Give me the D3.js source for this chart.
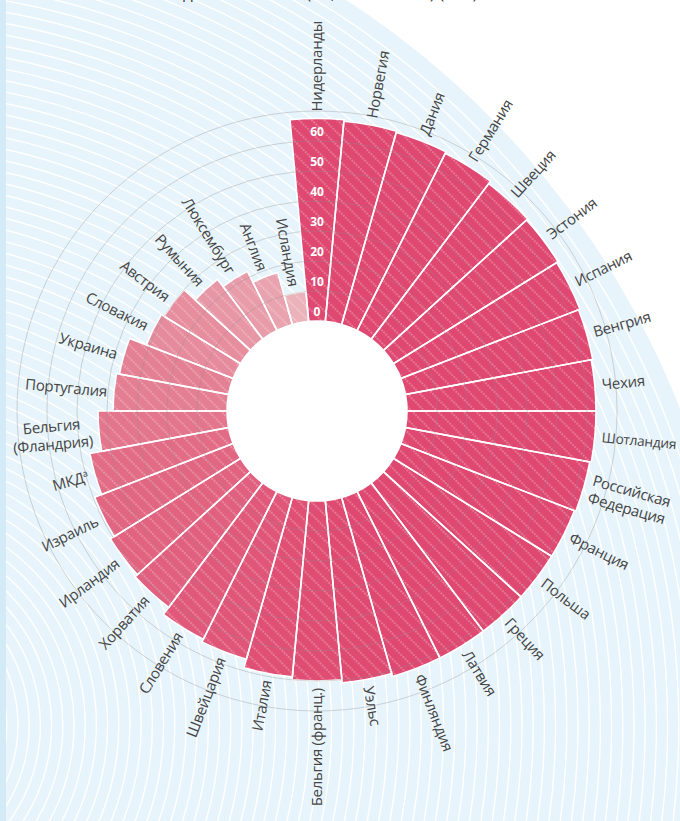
<!DOCTYPE html>
<html><head><meta charset="utf-8">
<script src="https://cdn.jsdelivr.net/npm/d3@7"></script>
<style>body{margin:0;background:#fff;overflow:hidden}</style>
</head><body><svg id="c" width="680" height="821"></svg>
<script>
const countries = ["Нидерланды","Норвегия","Дания","Германия","Швеция","Эстония","Испания","Венгрия","Чехия","Шотландия","Российская\nФедерация","Франция","Польша","Греция","Латвия","Финляндия","Уэльс","Бельгия (франц.)","Италия","Швейцария","Словения","Хорватия","Ирландия","Израиль","МКД","Бельгия\n(Фландрия)","Португалия","Украина","Словакия","Австрия","Румыния","Люксембург","Англия","Исландия"];
const values = [67.5,67,66.5,66,65,64.5,64,63.5,63,63,62.5,62,62,62,62,62,61,60,59,56,55,52,51,49.5,47,43,38,37,31,30,25,22,18,10];
const tickValues = [0,10,20,30,40,50,60];
const gridValues = [10,20,30,40,50,60,70];
const titleText = "дети в школах (11, 13 и 15 лет) (в %)";

const W=680,H=821,cx=317,cy=411;
const svg=d3.select("#c");
const defs=svg.append("defs");
const pat=defs.append("pattern").attr("id","hatch").attr("patternUnits","userSpaceOnUse")
  .attr("width",9).attr("height",9).attr("patternTransform","rotate(-45)");
pat.append("line").attr("x1",4).attr("y1",0).attr("x2",4).attr("y2",9)
  .attr("stroke","#fff").attr("stroke-width",1.2).attr("stroke-opacity",0.4).attr("stroke-dasharray","2,1");

// background
const bx=-124,by=725,bR=864;
svg.append("circle").attr("cx",bx).attr("cy",by).attr("r",bR).attr("fill","#e7f4fb");
const rings=d3.range(30,bR-14,11.2);
svg.append("g").selectAll("circle").data(rings).join("circle")
  .attr("cx",bx).attr("cy",by).attr("r",d=>d).attr("fill","none").attr("stroke","#fff").attr("stroke-width",1.4);
svg.append("rect").attr("x",0).attr("y",0).attr("width",6).attr("height",H).attr("fill","#d3eaf7");

svg.append("text").attr("x",183).attr("y",-1).attr("font-family","Open Sans").attr("font-size",17)
  .attr("fill","#454545").text(titleText);

const g=svg.append("g").attr("transform",`translate(${cx},${cy})`);
const step=2*Math.PI/countries.length;
const x=d3.scaleBand().domain(countries).range([-step/2,2*Math.PI-step/2]).paddingInner(0);
const r=d3.scaleLinear().domain([0,70]).range([90,300]);
const color=d3.scaleLinear().domain([10,45,62]).range(["#ebb2ba","#e27189","#df4870"]).clamp(true);

g.append("circle").attr("r",90).attr("fill","#fff");

const arc=d3.arc().innerRadius(r(0)).outerRadius(d=>r(d.v))
  .startAngle(d=>x(d.c)).endAngle(d=>x(d.c)+x.bandwidth());
const data=countries.map((c,i)=>({c,v:values[i]}));
g.append("g").selectAll("path").data(data).join("path")
  .attr("d",arc).attr("fill",d=>color(d.v));
g.append("g").selectAll("path").data(data).join("path")
  .attr("d",arc).attr("fill","url(#hatch)").attr("stroke","#fff").attr("stroke-width",1.6);

g.append("g").selectAll("circle").data(gridValues).join("circle")
  .attr("r",d=>r(d)).attr("fill","none").attr("stroke","#8c8c8c").attr("stroke-opacity",0.35).attr("stroke-width",1);

g.append("g").selectAll("text").data(tickValues).join("text")
  .attr("x",0).attr("y",d=>-(r(d)+9)).attr("dy","0.35em").attr("text-anchor","middle")
  .attr("fill","#fff").attr("font-family","Open Sans").attr("font-weight","bold").attr("font-size",12)
  .text(d=>d);

const lg=g.append("g").attr("font-family","Open Sans").attr("font-size",15).attr("fill","#454545")
  .attr("letter-spacing","-0.3");
data.forEach(d=>{
  const a=x(d.c)+x.bandwidth()/2;
  const deg=a*180/Math.PI;
  const R=r(d.v)+7;
  const px=R*Math.sin(a), py=-R*Math.cos(a);
  const right=deg<180;
  const rot=right?deg-90:deg+90;
  const lines=d.c.split("\n");
  const t=lg.append("text").attr("transform",`translate(${px},${py}) rotate(${rot})`)
    .attr("text-anchor",right?"start":"end");
  if(lines.length===1){
    t.append("tspan").attr("dy","0.35em").text(lines[0]);
    if(d.c==="МКД"){t.append("tspan").attr("font-size",9).attr("dy","-0.6em").text("a");}
  } else {
    lines.forEach((l,k)=>t.append("tspan").attr("x",0).attr("dy",k===0?"-0.25em":"1.2em").text(l));
    if(!right){
      const wmax=d3.max(t.selectAll("tspan").nodes(),n=>n.getComputedTextLength());
      t.attr("text-anchor","middle").selectAll("tspan").attr("x",-wmax/2);
    }
  }
  // keep label inside the page
  let fs=15;
  while(t.node().getBoundingClientRect().right>W-2 && fs>12){fs-=0.25;t.attr("font-size",fs);}
});
</script></body></html>
